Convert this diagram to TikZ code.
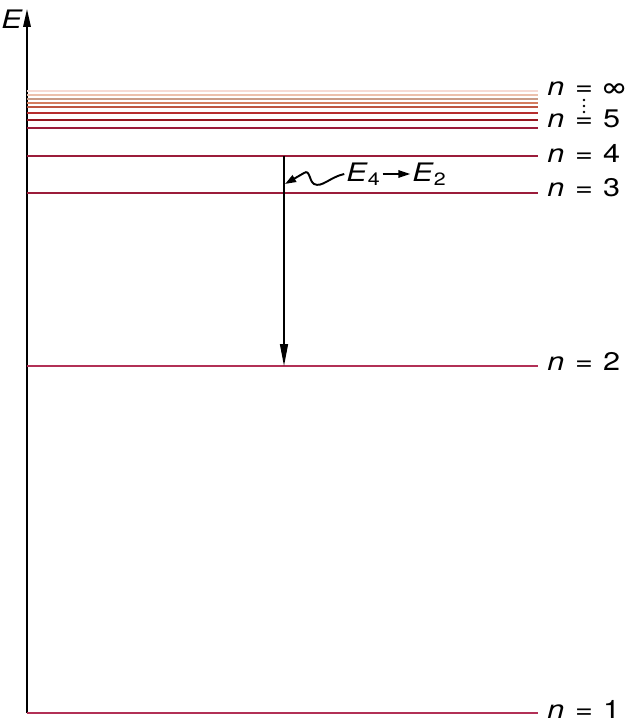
\documentclass[tikz,border=0pt]{standalone}
\usepackage{fontspec}
\setmainfont{TeX Gyre Heros}[FakeStretch=1.2]
\usetikzlibrary{arrows.meta}
\definecolor{lvcrimson}{RGB}{155,28,58}
\definecolor{lvpink}{RGB}{178,48,86}
\definecolor{lvdark}{RGB}{150,22,32}
\definecolor{lvred}{RGB}{182,45,45}
\definecolor{lvbrown}{RGB}{190,85,65}
\definecolor{lvorange}{RGB}{212,125,95}
\definecolor{lvtan}{RGB}{200,155,135}
\definecolor{lvpeach}{RGB}{236,192,172}
\definecolor{lvblush}{RGB}{246,218,212}

\tikzset{
  level/.style={line width=1.6pt, lvcrimson},
  nlabel/.style={anchor=west, inner sep=0pt, font=\fontsize{14.5}{17}\selectfont},
}
\newcommand{\nlev}[1]{\textit{n}\hspace{0.42em}=\hspace{0.4em}#1}

\begin{document}
\begin{tikzpicture}[x=0.02cm, y=-0.02cm]
  \useasboundingbox (0,0) rectangle (625,726);
  % Energy axis
  \coordinate (origin) at (27,713);
  \coordinate (top) at (27,9);
  \draw[line width=1pt, -{Triangle[length=0.36cm, width=0.15cm]}] (origin) -- (top);
  \node[nlabel] (elabel) at (1,19) {\textit{E}};
  % Upper levels, fading towards n = infinity
  \foreach \y/\c in {91/lvblush, 95/lvpeach, 99/lvtan, 103/lvorange,
                     107/lvbrown, 113/lvred, 120/lvdark, 128/lvcrimson}
    \draw[level, line width=1.3pt, \c] (27,\y) -- (538,\y);
  % Lower levels
  \draw[level] (27,156) coordinate (n4l) -- (538,156) coordinate (n4r);
  \draw[level] (27,193) coordinate (n3l) -- (538,193) coordinate (n3r);
  \draw[level, line width=1.1pt, lvpink] (27,366) coordinate (n2l) -- (538,366) coordinate (n2r);
  \draw[level, line width=1.1pt, lvpink] (27,713) -- (538,713) coordinate (n1r);
  % Labels
  \node[nlabel] (ninf) at (547,89) {\nlev{∞}};
  \node[nlabel] (nfive) at (547,119) {\nlev{5}};
  \node[nlabel] (nfour) at (547,153) {\nlev{4}};
  \node[nlabel] (nthree) at (547,188) {\nlev{3}};
  \node[nlabel] (ntwo) at (547,361) {\nlev{2}};
  \node[nlabel] (none) at (547,709) {\nlev{1}};
  \foreach \y in {100,106,112}
    \fill (584,\y) circle (0.75pt);
  % Transition
  \coordinate (upper) at (284,156);
  \coordinate (lower) at (284,366);
  \draw[line width=0.8pt, -{Triangle[length=0.44cm, width=0.16cm]}] (upper) -- (lower);
  % Photon
  \node[nlabel] (efour) at (346,174) {\textit{E}\textsubscript{4}};
  \node[nlabel] (etwo) at (412,174) {\textit{E}\textsubscript{2}};
  \draw[line width=1.1pt, -{Triangle[length=0.22cm, width=0.15cm]}]
    ([xshift=-1pt]efour.west) .. controls (330,177) and (322,188) .. (314,184)
    .. controls (309,181) and (310,169) .. (304,173) -- (285,184);
  \draw[line width=1pt, -{Triangle[length=0.24cm, width=0.15cm]}]
    ([xshift=1pt]efour.east) -- ([xshift=-1pt]etwo.west);
\end{tikzpicture}
\end{document}
